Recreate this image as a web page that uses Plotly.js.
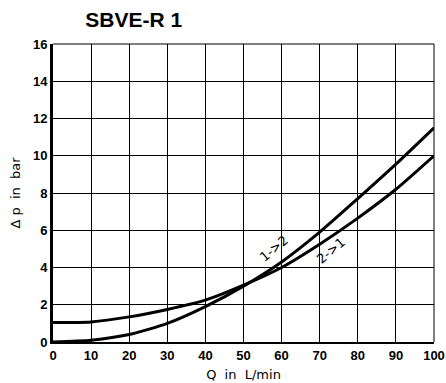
<!DOCTYPE html>
<html><head><meta charset="utf-8">
<script src="https://cdn.plot.ly/plotly-3.0.1.min.js"></script>
<style>body{margin:0;background:#fff}#c{width:446px;height:383px}</style>
</head><body><div id="c"></div>
<script>
const flow = [0, 10, 20, 30, 40, 50, 60, 70, 80, 90, 100];
const dp12 = [0, 0.1, 0.4, 1.0, 1.9, 3.0, 4.3, 5.9, 7.7, 9.55, 11.5];
const dp21 = [1.05, 1.08, 1.35, 1.75, 2.25, 3.05, 4.0, 5.25, 6.65, 8.2, 10.0];
const labels = ["1->2", "2->1"];
const xTicks = [0,10,20,30,40,50,60,70,80,90,100];
const yTicks = [0,2,4,6,8,10,12,14,16];

const line = {color:'#000', width:3, shape:'spline', smoothing:0.6};
const traces = [
  {x:flow, y:dp12, mode:'lines', line:line, name:labels[0], hoverinfo:'skip'},
  {x:flow, y:dp21, mode:'lines', line:line, name:labels[1], hoverinfo:'skip'}
];
const tf = {family:'Liberation Sans, Arial, sans-serif', size:13, color:'#000', weight:'bold'};
const af = {family:'DejaVu Sans, sans-serif', size:13, color:'#000'};
const layout = {
  width:446, height:383,
  margin:{l:53, r:12, t:44, b:41},
  paper_bgcolor:'#fff', plot_bgcolor:'#fff',
  showlegend:false,
  title:{text:'<b>SBVE-R 1</b>', font:{family:'Liberation Sans, Arial, sans-serif', size:21, color:'#000'}, x:0.3, xanchor:'center', y:0.95, yanchor:'middle'},
  xaxis:{range:[0,100], tickvals:xTicks, ticktext:xTicks.map(String), showgrid:true, gridcolor:'#000', gridwidth:1,
    zeroline:false, showline:true, linecolor:'#000', linewidth:2, mirror:false, ticks:'', tickfont:tf, fixedrange:true,
    title:{text:'Q  in  L/min', font:af, standoff:8}},
  yaxis:{range:[0,16], tickvals:yTicks, ticktext:yTicks.map(String), showgrid:true, gridcolor:'#000', gridwidth:1,
    zeroline:false, showline:true, linecolor:'#000', linewidth:3, ticks:'', tickfont:tf, fixedrange:true,
    title:{text:'Δ p  in  bar', font:af, standoff:10}},
  shapes:[
    {type:'line', xref:'paper', yref:'paper', x0:1, x1:1, y0:0, y1:1, line:{color:'#000', width:1}},
    {type:'line', xref:'paper', yref:'paper', x0:0, x1:1, y0:1, y1:1, line:{color:'#000', width:1}}
  ],
  annotations:[
    {x:58, y:5.0, text:labels[0], showarrow:false, textangle:-40, font:af},
    {x:73, y:4.9, text:labels[1], showarrow:false, textangle:-40, font:af}
  ]
};
Plotly.newPlot('c', traces, layout, {staticPlot:true, displayModeBar:false});
</script></body></html>
